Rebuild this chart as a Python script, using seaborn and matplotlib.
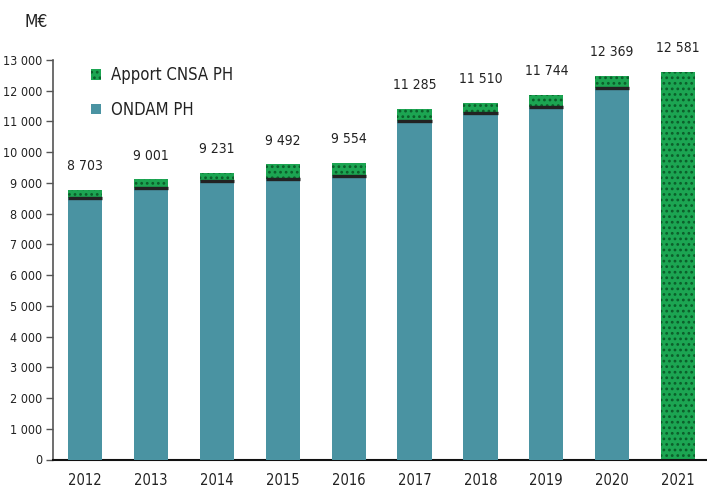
import numpy as np
import pandas as pd
import matplotlib
matplotlib.use("Agg")
import matplotlib.pyplot as plt
import seaborn as sns
from matplotlib.patches import Patch
from matplotlib.ticker import FuncFormatter, MultipleLocator

# === Données (M€) ===
annees = ["2012", "2013", "2014", "2015", "2016", "2017", "2018", "2019", "2020", "2021"]
ondam_ph = [8496, 8821, 9058, 9123, 9220, 11030, 11267, 11462, 12102, 0]
apport_cnsa_ph = [282, 292, 273, 477, 436, 380, 338, 413, 390, 12612]
etiquettes = ["8 703", "9 001", "9 231", "9 492", "9 554", "11 285", "11 510", "11 744", "12 369", "12 581"]

TEAL = "#4a93a2"
VERT = "#1ca552"
VERT_FONCE = "#0b5e2a"

sns.set_theme(style="white")
plt.rcParams["font.family"] = ["DejaVu Sans"]
plt.rcParams["font.stretch"] = "condensed"
plt.rcParams["hatch.linewidth"] = 1.2

df = pd.DataFrame({"annee": annees, "ondam": ondam_ph, "cnsa": apport_cnsa_ph})
df["total"] = df["ondam"] + df["cnsa"]

fig = plt.figure(figsize=(7.07, 4.87), dpi=100)
ax = fig.add_axes([53 / 707, 27.5 / 487, 654 / 707, 399.5 / 487])

# barre totale (vert pointillé) puis ONDAM par-dessus
sns.barplot(data=df, x="annee", y="total", color=VERT, width=0.52,
            saturation=1, ax=ax, zorder=2)
for p in ax.patches:
    p.set_hatch("...")
    p.set_edgecolor(VERT_FONCE)
    p.set_linewidth(0)
n_tot = len(ax.patches)
sns.barplot(data=df, x="annee", y="ondam", color=TEAL, width=0.52,
            saturation=1, ax=ax, zorder=3)
ondam_patches = ax.patches[n_tot:]
for p, v in zip(ondam_patches, df["ondam"]):
    p.set_linewidth(0)
    if v > 0:
        ax.hlines(v, p.get_x(), p.get_x() + p.get_width(), color="#222222",
                  linewidth=2.4, zorder=4)

# étiquettes au-dessus des barres
for p, lab in zip(ax.patches[:n_tot], etiquettes):
    ax.annotate(lab, (p.get_x() + p.get_width() / 2, p.get_height()),
                xytext=(0, 12), textcoords="offset points", ha="center",
                va="bottom", fontsize=10, color="#222222")

ax.set_ylim(0, 13000)
ax.set_xlim(-0.49, 9.44)
ax.yaxis.set_major_locator(MultipleLocator(1000))
ax.yaxis.set_major_formatter(FuncFormatter(lambda v, _: f"{int(v):,}".replace(",", " ")))
ax.set_xlabel("")
ax.set_ylabel("")
for s in ["top", "right"]:
    ax.spines[s].set_visible(False)
ax.spines["left"].set_color("#555555")
ax.spines["left"].set_linewidth(1.2)
ax.spines["bottom"].set_color("#111111")
ax.spines["bottom"].set_linewidth(1.5)
ax.tick_params(axis="y", left=True, length=5, width=1, color="#555555",
               labelsize=9, labelcolor="#222222", pad=3)
ax.tick_params(axis="x", bottom=False, labelsize=10.5, labelcolor="#222222", pad=3.5)

fig.text(25 / 707, 1 - 22 / 487, "M€", fontsize=12.5, color="#222222",
         ha="left", va="center")

poignees = [Patch(facecolor=VERT, edgecolor=VERT_FONCE, hatch="...", linewidth=0,
                  label="Apport CNSA PH"),
            Patch(facecolor=TEAL, linewidth=0, label="ONDAM PH")]
ax.legend(handles=poignees, loc="upper left", bbox_to_anchor=(0.035, 1.022),
          frameon=False, fontsize=12, handlelength=0.6, handleheight=0.6,
          handletextpad=0.6, labelspacing=1.0, labelcolor="#222222")

fig.savefig("out.png", dpi=100)
